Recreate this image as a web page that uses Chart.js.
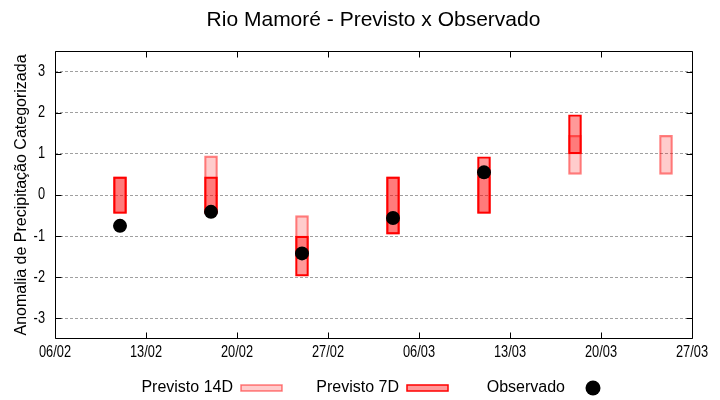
<!DOCTYPE html>
<html>
<head>
<meta charset="utf-8">
<script src="https://cdn.jsdelivr.net/npm/chart.js@4.4.1/dist/chart.umd.min.js"></script>
<style>body{margin:0;background:#fff;overflow:hidden}</style>
</head>
<body>
<canvas id="grafico" width="720" height="400"></canvas>
<script>
// datas das previsoes (dd/mm)
const datas = ["11/02", "18/02", "25/02", "04/03", "11/03", "18/03", "25/03"];
// faixas previstas (inferior / superior)
const prev14Inf = [-0.45, -0.45, -1.5, -0.95, -0.45, 0.5, 0.5];
const prev14Sup = [0.44, 0.95, -0.5, 0.44, 0.45, 1.45, 1.45];
const prev7Inf = [-0.45, -0.45, -1.97, -0.95, -0.45, 1.0, null];
const prev7Sup = [0.44, 0.44, -1.0, 0.44, 0.93, 1.95, null];
const observado = [-0.75, -0.41, -1.42, -0.56, 0.55, null, null];

const rotulosX = ["06/02", "13/02", "20/02", "27/02", "06/03", "13/03", "20/03", "27/03"];
const rotulosY = [-3, -2, -1, 0, 1, 2, 3];

const titulo = "Rio Mamoré - Previsto x Observado";

function dia(s) {
    const [d, m] = s.split("/").map(Number);
    return (Date.UTC(2023, m - 1, d) - Date.UTC(2023, 1, 6)) / 86400000;
}

function faixa(inf, sup) {
    const pts = [];
    datas.forEach((d, i) => {
        if (inf[i] !== null && sup[i] !== null) pts.push({ x: dia(d), y: [inf[i], sup[i]] });
    });
    return pts;
}

const cor14 = "rgba(255, 0, 0, 0.2)";
const borda14 = "rgba(255, 0, 0, 0.5)";
const cor7 = "rgba(255, 0, 0, 0.4)";
const borda7 = "#ff0000";

const fonte = "'Liberation Sans', Arial, sans-serif";

// texto estreito (fonte condensada na horizontal)
function textoEstreito(ctx, txt, x, y, alinhar) {
    ctx.save();
    ctx.translate(x, y);
    ctx.scale(0.8, 1);
    ctx.textAlign = alinhar;
    ctx.fillText(txt, 0, 0);
    ctx.restore();
}

const moldura = {
    id: "moldura",
    afterDraw(chart) {
        const { ctx, chartArea: a, scales: { x, y } } = chart;
        ctx.save();
        ctx.strokeStyle = "#000";
        ctx.lineWidth = 1;
        const L = Math.round(a.left) + 0.5, R = Math.round(a.right) + 0.5;
        const T = Math.round(a.top) + 0.5, B = Math.round(a.bottom) - 0.5;

        ctx.beginPath();
        ctx.moveTo(L, T); ctx.lineTo(R, T); ctx.lineTo(R, B); ctx.lineTo(L, B); ctx.closePath();
        rotulosX.forEach(t => {
            const px = Math.round(x.getPixelForValue(dia(t))) + 0.5;
            ctx.moveTo(px, B); ctx.lineTo(px, B - 6);
            ctx.moveTo(px, T); ctx.lineTo(px, T + 6);
        });
        rotulosY.forEach(v => {
            const py = Math.round(y.getPixelForValue(v)) + 0.5;
            ctx.moveTo(L, py); ctx.lineTo(L + 6, py);
            ctx.moveTo(R, py); ctx.lineTo(R - 6, py);
        });
        ctx.stroke();

        // rotulos dos eixos
        ctx.fillStyle = "#000";
        ctx.font = "16px " + fonte;
        ctx.textBaseline = "middle";
        rotulosX.forEach(t => textoEstreito(ctx, t, x.getPixelForValue(dia(t)), a.bottom + 14, "center"));
        rotulosY.forEach(v => textoEstreito(ctx, String(v), a.left - 10, y.getPixelForValue(v), "right"));

        // titulo
        ctx.font = "21px " + fonte;
        ctx.textAlign = "center";
        ctx.fillText(titulo, (a.left + a.right) / 2, 20);

        // legenda
        ctx.font = "16px " + fonte;
        ctx.textAlign = "right";
        const yl = 388;
        const itens = [
            { txt: "Previsto 14D", x: 241, fill: cor14, stroke: borda14 },
            { txt: "Previsto 7D", x: 407, fill: cor7, stroke: borda7 },
            { txt: "Observado", x: 573, ponto: true }
        ];
        itens.forEach(it => {
            ctx.fillStyle = "#000";
            ctx.fillText(it.txt, it.x - 8, yl);
            if (it.ponto) {
                ctx.beginPath();
                ctx.arc(it.x + 20, yl, 7.5, 0, Math.PI * 2);
                ctx.fill();
            } else {
                ctx.fillStyle = it.fill;
                ctx.fillRect(it.x, yl - 3, 41, 6);
                ctx.strokeStyle = it.stroke;
                ctx.lineWidth = 1.5;
                ctx.strokeRect(it.x, yl - 3, 41, 6);
            }
        });
        ctx.restore();
    }
};

new Chart(document.getElementById("grafico"), {
    type: "bar",
    data: {
        datasets: [
            {
                type: "line",
                label: "Observado",
                data: datas.map((d, i) => ({ x: dia(d), y: observado[i] })).filter(p => p.y !== null),
                showLine: false,
                pointRadius: 7,
                pointBackgroundColor: "#000",
                pointBorderColor: "#000",
                pointBorderWidth: 0,
                order: 0
            },
            {
                label: "Previsto 7D",
                data: faixa(prev7Inf, prev7Sup),
                backgroundColor: cor7,
                borderColor: borda7,
                borderWidth: 1.5,
                borderSkipped: false,
                barThickness: 13,
                grouped: false,
                order: 1
            },
            {
                label: "Previsto 14D",
                data: faixa(prev14Inf, prev14Sup),
                backgroundColor: cor14,
                borderColor: borda14,
                borderWidth: 1.5,
                borderSkipped: false,
                barThickness: 13,
                grouped: false,
                order: 2
            }
        ]
    },
    options: {
        responsive: false,
        animation: false,
        layout: { padding: { top: 51, right: 28, left: 0, bottom: 0 } },
        plugins: {
            legend: { display: false },
            tooltip: { enabled: false },
            title: { display: false }
        },
        scales: {
            x: {
                type: "linear",
                offset: false,
                min: 0,
                max: 49,
                afterBuildTicks: s => { s.ticks = rotulosX.map(t => ({ value: dia(t) })); },
                afterFit: s => { s.height = 61; },
                ticks: { display: false },
                grid: { display: false, drawTicks: false },
                border: { display: false }
            },
            y: {
                min: -3.5,
                max: 3.5,
                afterBuildTicks: s => { s.ticks = rotulosY.map(v => ({ value: v })); },
                afterFit: s => { s.width = 55; },
                ticks: { display: false },
                grid: { color: "#a0a0a0", lineWidth: 1, drawTicks: false },
                border: { display: false, dash: [3, 2] },
                title: {
                    display: true,
                    text: "Anomalia de Precipitação Categorizada",
                    font: { family: fonte, size: 16 },
                    color: "#000",
                    padding: { top: 12, bottom: 0 }
                }
            }
        }
    },
    plugins: [moldura]
});
</script>
</body>
</html>
